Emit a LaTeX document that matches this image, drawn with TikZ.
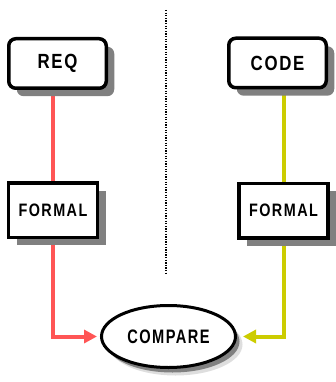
\documentclass[tikz,border=0pt]{standalone}
\usepackage{fontspec}
\setmainfont{Liberation Sans}
\usetikzlibrary{shadows,arrows.meta,backgrounds,shapes.geometric}
\definecolor{redl}{RGB}{255,85,85}
\definecolor{yell}{RGB}{204,204,0}
\definecolor{shad}{RGB}{128,128,128}
\definecolor{shadl}{RGB}{222,222,222}
\newcommand\sqz[2]{\scalebox{#1}[1]{#2}}
\begin{document}
\begin{tikzpicture}[x=1pt,y=-1pt,
  box/.style={draw=black, line width=3.5pt, fill=white, inner sep=0pt,
    general shadow={shadow xshift=8pt, shadow yshift=-8pt, fill=shad, opacity=1}},
  rbox/.style={box, rounded corners=7pt, minimum width=97.5pt, minimum height=49.5pt,
    font=\fontsize{20.5}{20.5}\selectfont\bfseries\addfontfeature{LetterSpace=10}},
  fbox/.style={box, minimum width=89pt, minimum height=54.5pt,
    font=\fontsize{18}{18}\selectfont\bfseries\addfontfeature{LetterSpace=10}},
  cmpnode/.style={ellipse, draw=black, line width=3pt, fill=white, inner sep=0pt,
    minimum width=134pt, minimum height=62pt,
    font=\fontsize{19.5}{19.5}\selectfont\bfseries\addfontfeature{LetterSpace=10},
    general shadow={shadow xshift=7pt, shadow yshift=-8pt, fill=shadl, opacity=1},
    general shadow={shadow xshift=4pt, shadow yshift=-5pt, fill=shad, opacity=1}},
  conn/.style={line width=4pt},
  tip/.style={-{Triangle[length=13pt,width=13pt]}},
  sep/.style={line width=1.3pt, dash pattern=on 1.3pt off 1.3pt}
]
\useasboundingbox (0,0) rectangle (335,382);
\node[rbox] (req) at (57.5,63.5) {\sqz{0.82}{REQ}};
\node[rbox] (code) at (277.5,63) {\sqz{0.82}{CODE}};
\node[fbox] (fl) at (53,210) {\sqz{0.8}{FORMAL}};
\node[fbox] (fr) at (283.5,210.5) {\sqz{0.8}{FORMAL}};
\node[cmpnode] (cmp) at (168.5,336.5) {\sqz{0.75}{COMPARE}};
\coordinate (d1) at (166,10);
\coordinate (d2) at (166,273);
\draw[sep] (d1) -- (d2);
\begin{scope}[on background layer]
\draw[conn, redl] (req.south -| fl.north) -- (fl.north);
\draw[conn, redl, tip, shorten >=3pt] (fl.south) |- (cmp.west);
\draw[conn, yell] (code.south -| fr.north) -- (fr.north);
\draw[conn, yell, tip, shorten >=6pt] (fr.south) |- (cmp.east);
\end{scope}
\end{tikzpicture}
\end{document}
